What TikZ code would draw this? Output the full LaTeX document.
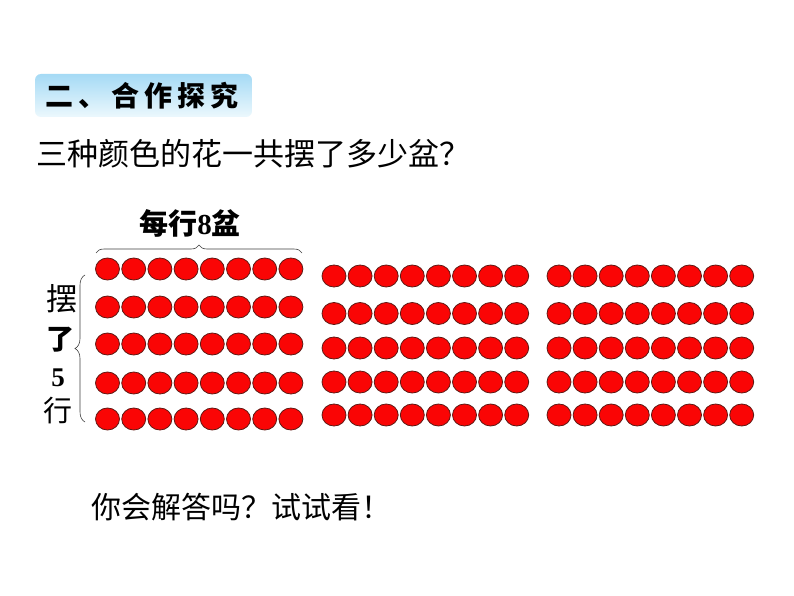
\documentclass[tikz,border=0pt]{standalone}
\usepackage{fontspec}
\setmainfont{Liberation Serif}
\newfontfamily\cjk{Noto Sans CJK SC}
\usetikzlibrary{shapes.geometric,decorations.pathreplacing}
\definecolor{dotred}{RGB}{250,5,5}
\definecolor{dotedge}{RGB}{95,25,20}
\definecolor{titletop}{RGB}{165,218,245}
\definecolor{titlebot}{RGB}{236,248,253}
\tikzset{
  dot/.style={ellipse,fill=dotred,draw=dotedge,line width=0.8pt,minimum width=24pt,minimum height=22pt,inner sep=0pt},
  bracestyle/.style={draw=black!75,line width=0.6pt,decorate,decoration={brace,amplitude=#1}},
  txt/.style={inner sep=0pt,font=\cjk}
}
\begin{document}
\begin{tikzpicture}[x=1pt,y=-1pt]
\useasboundingbox (0,0) rectangle (794,596);
\fill[white] (0,0) rectangle (794,596);
% title
\node[rounded corners=6pt,top color=titletop,bottom color=titlebot,minimum width=217pt,minimum height=43pt,inner sep=0pt] (titlebox) at (143.5,95.5) {};
\node[txt,font=\cjk\bfseries\fontsize{28}{28}\selectfont] (title) at (142,96) {二\hspace{5pt}、\hspace{5pt}合\hspace{5pt}作\hspace{5pt}探\hspace{5pt}究};
% question
\node[txt,anchor=west,font=\cjk\fontsize{31}{31}\selectfont] (q) at (36,153.5) {三种颜色的花一共摆了多少盆？};
% circles
\foreach \r/\y in {1/269,2/307,3/344,4/383,5/419}{
  \foreach \c in {0,...,7}{
    \node[dot] (a\r\c) at ({107.5+26.2*\c},\y) {};
  }
}
\foreach \r/\y in {1/276,2/313.5,3/348,4/382,5/415}{
  \foreach \c in {0,...,7}{
    \node[dot] (b\r\c) at ({334+26.1*\c},\y) {};
    \node[dot] (c\r\c) at ({559+26.1*\c},\y) {};
  }
}
% braces
\coordinate (tbl) at (96,253);
\coordinate (tbr) at (302,253);
\draw[bracestyle=8pt] (tbl) -- (tbr);
\coordinate (lbb) at (85,422);
\coordinate (lbt) at (85,275);
\draw[bracestyle=10pt] (lbb) -- (lbt);
% labels
\node[txt,font=\cjk\bfseries\fontsize{29}{29}\selectfont] (top) at (190,223) {每行{\rmfamily\bfseries 8}盆};
\node[txt,font=\cjk\fontsize{31}{31}\selectfont] (l1) at (62,299) {摆};
\node[txt,font=\cjk\bfseries\fontsize{28}{28}\selectfont] (l2) at (60,340) {了};
\node[txt,font=\rmfamily\bfseries\fontsize{27}{27}\selectfont] (l3) at (58,378) {5};
\node[txt,font=\cjk\fontsize{29}{29}\selectfont] (l4) at (58,411) {行};
% bottom
\node[txt,anchor=west,font=\cjk\fontsize{30}{30}\selectfont] (ans) at (91,507) {你会解答吗？试试看！};
\end{tikzpicture}
\end{document}
